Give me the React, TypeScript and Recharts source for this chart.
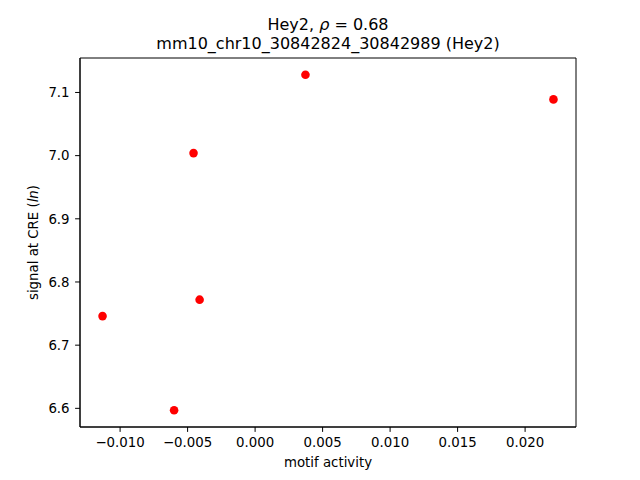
import React from "react";
import {
    ReferenceArea,
    Scatter,
    ScatterChart,
    XAxis,
    YAxis
} from "recharts";

// values
const motifActivity = [-0.0113, -0.006, -0.00456, -0.00411, 0.00373, 0.0221];
const creSignal = [6.746, 6.597, 7.004, 6.772, 7.128, 7.089];

const xTicks = [-0.01, -0.005, 0, 0.005, 0.01, 0.015, 0.02];
const yTicks = [6.6, 6.7, 6.8, 6.9, 7.0, 7.1];

const titleLine1 = "Hey2, ";
const titleRho = "ρ";
const titleLine1End = " = 0.68";
const titleLine2 = "mm10_chr10_30842824_30842989 (Hey2)";

const FONT = "'DejaVu Sans', sans-serif";

// matplotlib-like autoscale with 5% margins
function padDomain(vals: number[]): [number, number] {
    const lo = Math.min(...vals);
    const hi = Math.max(...vals);
    const pad = (hi - lo) * 0.05;
    return [lo - pad, hi + pad];
}

const formatX = (v: number) => {
    const s = Math.abs(v).toFixed(3);
    return v < -1e-9 ? `\u2212${s}` : s;
};

const Dot = (props: any) => {
    const { cx, cy } = props;
    if (cx == null || cy == null) return null;
    return <circle cx={cx} cy={cy} r={4.3} fill="#ff0000" />;
};

export default function App() {
    const data = motifActivity.map((x, i) => ({ x, y: creSignal[i] }));
    const xDomain = padDomain(motifActivity);
    const yDomain = padDomain(creSignal);
    const tickStyle = { fontSize: 13.33, fill: "#000", fontFamily: FONT };

    return (
        <div style={{ position: "absolute", left: 0, top: 0, width: 640, height: 480, background: "#fff" }}>
            <ScatterChart
                width={640}
                height={480}
                margin={{ top: 58, right: 64, bottom: 0, left: 0 }}
            >
                <XAxis
                    type="number"
                    dataKey="x"
                    domain={xDomain}
                    ticks={xTicks}
                    tickFormatter={formatX}
                    height={53}
                    tickSize={4.9}
                    tickMargin={6}
                    tick={tickStyle}
                    stroke="#000"
                    allowDataOverflow
                />
                <YAxis
                    type="number"
                    dataKey="y"
                    domain={yDomain}
                    ticks={yTicks}
                    tickFormatter={(v: number) => v.toFixed(1)}
                    width={80}
                    tickSize={4.9}
                    tickMargin={5.5}
                    tick={tickStyle}
                    stroke="#000"
                    allowDataOverflow
                />
                <ReferenceArea
                    x1={xDomain[0]}
                    x2={xDomain[1]}
                    y1={yDomain[0]}
                    y2={yDomain[1]}
                    fill="none"
                    stroke="#000"
                    strokeWidth={1}
                    ifOverflow="visible"
                />
                <Scatter data={data} shape={Dot} isAnimationActive={false} />
            </ScatterChart>
            <svg
                width={640}
                height={480}
                style={{ position: "absolute", left: 0, top: 0, pointerEvents: "none" }}
                fontFamily={FONT}
            >
                <text x={328} y={30} textAnchor="middle" fontSize={16} fill="#000">
                    {titleLine1}
                    <tspan fontStyle="italic">{titleRho}</tspan>
                    {titleLine1End}
                </text>
                <text x={328} y={49} textAnchor="middle" fontSize={16} fill="#000">
                    {titleLine2}
                </text>
                <text x={328} y={467} textAnchor="middle" fontSize={13.33} fill="#000">
                    motif activity
                </text>
                <text
                    x={38}
                    y={242.5}
                    textAnchor="middle"
                    fontSize={13.33}
                    fill="#000"
                    transform="rotate(-90 38 242.5)"
                >
                    signal at CRE (<tspan fontStyle="italic">ln</tspan>)
                </text>
            </svg>
        </div>
    );
}
